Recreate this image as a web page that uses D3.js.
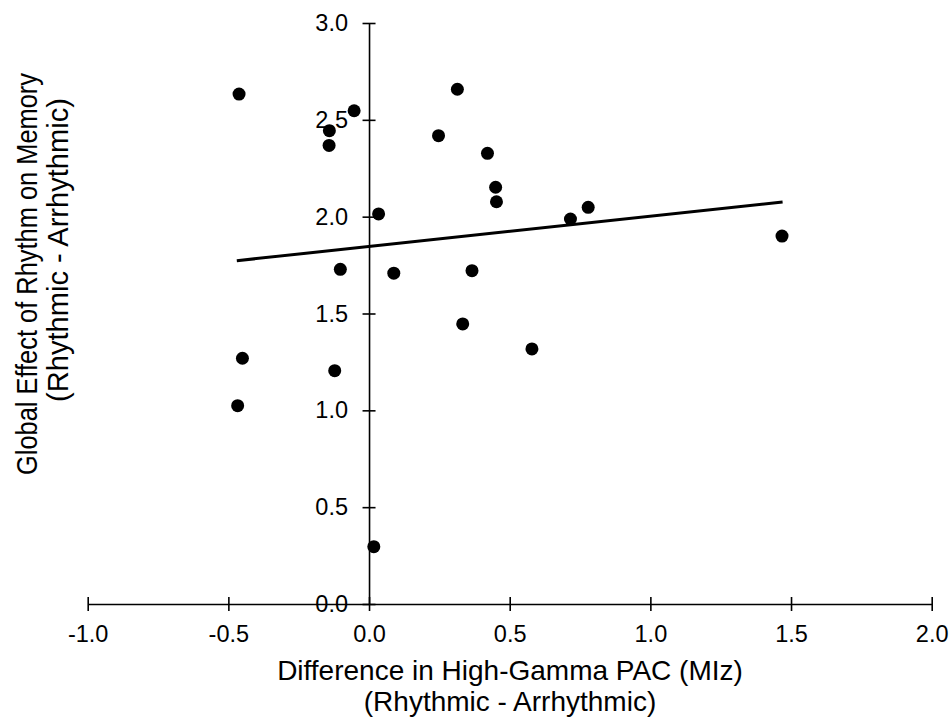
<!DOCTYPE html>
<html>
<head>
<meta charset="utf-8">
<script src="https://cdn.jsdelivr.net/npm/d3@7"></script>
<style>
  body { margin: 0; background: #fff; }
  svg { display: block; font-family: "Liberation Sans", Arial, sans-serif; }
</style>
</head>
<body>
<div class="scatter"></div>
<script>
var width = 952
var height = 721

// PAC difference (x) and memory effect (y) per participant
var pacDiff = [-0.462, -0.053, -0.141, -0.142, 0.314, 0.247, 0.421, 0.450, 0.453, 0.034, -0.102,
  0.088, 0.366, 0.333, 0.579, -0.450, -0.122, -0.467, 0.716, 0.779, 1.468, 0.017]
var memEffect = [2.633, 2.547, 2.444, 2.368, 2.658, 2.418, 2.327, 2.152, 2.077, 2.014, 1.728,
  1.708, 1.721, 1.446, 1.317, 1.269, 1.205, 1.024, 1.988, 2.048, 1.900, 0.296]

// linear trend line
var trendX = [-0.47, 1.47]
var trendIntercept = 1.846
var trendSlope = 0.156

var xTicks = [-1.0, -0.5, 0.0, 0.5, 1.0, 1.5, 2.0]
var yTicks = [0.0, 0.5, 1.0, 1.5, 2.0, 2.5, 3.0]

var svg = d3.select('.scatter')
  .append('svg')
  .attr('width', width)
  .attr('height', height)

var x = d3.scaleLinear().domain([-1, 2]).range([87.7, 931.7])
var y = d3.scaleLinear().domain([0, 3]).range([604, 23])

// plain hyphen for negatives, like the original
var fmt = function(d) { return d.toFixed(1) }

var xAxis = svg.append('g')
  .attr('transform', 'translate(0,' + y(0) + ')')
  .call(d3.axisBottom(x).tickValues(xTicks).tickFormat(fmt).tickSizeOuter(0))
xAxis.selectAll('.tick line').attr('y1', -7).attr('y2', 7)
xAxis.selectAll('.tick text').attr('y', 21).attr('dy', '0.71em')

var yAxis = svg.append('g')
  .attr('transform', 'translate(' + x(0) + ',0)')
  .call(d3.axisLeft(y).tickValues(yTicks).tickFormat(fmt).tickSizeOuter(0))
yAxis.selectAll('.tick line').attr('x1', -6.5).attr('x2', 6.5)
yAxis.selectAll('.tick text').attr('x', -21)

svg.selectAll('.domain').attr('stroke', '#000').attr('stroke-width', 1.6)
svg.selectAll('.tick line').attr('stroke', '#000').attr('stroke-width', 1.6)
svg.selectAll('.tick text')
  .attr('fill', '#000')
  .style('font-size', '23.5px')
  .style('font-family', '"Liberation Sans", Arial, sans-serif')

svg.append('line')
  .attr('x1', x(trendX[0]))
  .attr('y1', y(trendIntercept + trendSlope * trendX[0]))
  .attr('x2', x(trendX[1]))
  .attr('y2', y(trendIntercept + trendSlope * trendX[1]))
  .attr('stroke', '#000')
  .attr('stroke-width', 3)

svg.selectAll('circle')
  .data(d3.range(pacDiff.length))
  .enter().append('circle')
  .attr('cx', function(i) { return x(pacDiff[i]) })
  .attr('cy', function(i) { return y(memEffect[i]) })
  .attr('r', 6.5)
  .attr('fill', '#000')

// axis titles
svg.append('text')
  .attr('x', 510).attr('y', 680)
  .attr('text-anchor', 'middle')
  .style('font-size', '28px')
  .text('Difference in High-Gamma PAC (MIz)')
svg.append('text')
  .attr('x', 510).attr('y', 711)
  .attr('text-anchor', 'middle')
  .style('font-size', '28px')
  .text('(Rhythmic - Arrhythmic)')

svg.append('text')
  .attr('transform', 'translate(37,274) rotate(-90)')
  .attr('text-anchor', 'middle')
  .attr('textLength', 402)
  .attr('lengthAdjust', 'spacingAndGlyphs')
  .style('font-size', '30px')
  .text('Global Effect of Rhythm on Memory')
svg.append('text')
  .attr('transform', 'translate(68,250) rotate(-90)')
  .attr('text-anchor', 'middle')
  .attr('textLength', 304)
  .attr('lengthAdjust', 'spacingAndGlyphs')
  .style('font-size', '30px')
  .text('(Rhythmic - Arrhythmic)')
</script>
</body>
</html>
